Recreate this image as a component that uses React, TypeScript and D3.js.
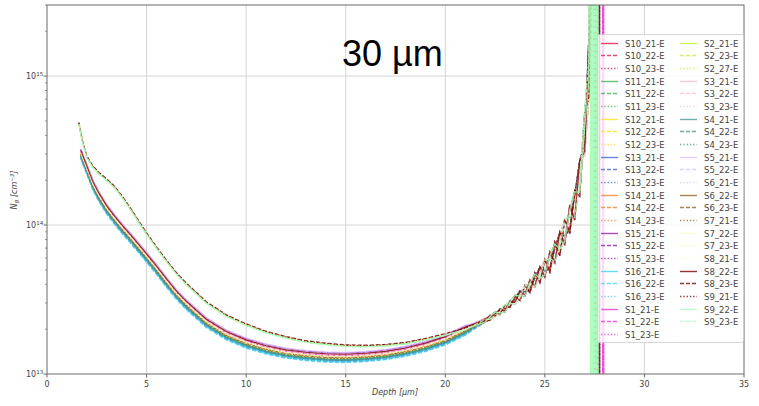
import React from "react";
import * as d3 from "d3";

const SERIES = [
  "S10_21-E","S10_22-E","S10_23-E","S11_21-E","S11_22-E","S11_23-E",
  "S12_21-E","S12_22-E","S12_23-E","S13_21-E","S13_22-E","S13_23-E",
  "S14_21-E","S14_22-E","S14_23-E","S15_21-E","S15_22-E","S15_23-E",
  "S16_21-E","S16_22-E","S16_23-E","S1_21-E","S1_22-E","S1_23-E",
  "S2_21-E","S2_23-E","S2_27-E","S3_21-E","S3_22-E","S3_23-E",
  "S4_21-E","S4_22-E","S4_23-E","S5_21-E","S5_22-E","S6_21-E",
  "S6_22-E","S6_23-E","S7_21-E","S7_22-E","S7_23-E","S8_21-E",
  "S8_22-E","S8_23-E","S9_21-E","S9_22-E","S9_23-E",
];

const COLORS = [
  "#e6194b","#3cb44b","#ffe119","#4363d8","#f58231","#911eb4","#42d4f4","#f032e6",
  "#bfef45","#fabed4","#469990","#dcbeff","#9a6324","#fffac8","#800000","#aaffc3",
];

// series belonging to the upper (shouldered) family
const UPPER = ["S2_21-E","S2_23-E","S2_27-E","S8_23-E","S9_21-E","S9_22-E","S9_23-E"];

// shared front-region depths (µm) and the two family profiles (cm^-3)
const FRONT_DEPTH = [1.6,1.8,2.0,2.3,2.6,3.0,3.4,3.8,4.2,4.6,5.0,5.5,6.0,6.5,7.0,8.0,9.0,10,11,12,13,14,15,16,17,18,19,20,21];
const UPPER_FRONT = [4.8e14,3.5e14,2.85e14,2.45e14,2.22e14,2.0e14,1.78e14,1.52e14,1.27e14,1.05e14,8.7e13,7.0e13,5.7e13,4.7e13,4.0e13,3.0e13,2.45e13,2.13e13,1.9e13,1.75e13,1.64e13,1.58e13,1.54e13,1.53e13,1.55e13,1.6e13,1.7e13,1.83e13,2.0e13];
const LOWER_FRONT = [3.15e14,2.75e14,2.35e14,1.85e14,1.55e14,1.27e14,1.08e14,9.3e13,8.1e13,7.0e13,6.05e13,5.0e13,4.1e13,3.4e13,2.9e13,2.2e13,1.82e13,1.6e13,1.46e13,1.37e13,1.32e13,1.29e13,1.28e13,1.3e13,1.34e13,1.41e13,1.52e13,1.68e13,1.95e13];

// per-series level offset in the front region
const LEVEL = [
  1.05,1.04,1.06, 0.98,0.97,0.99, 1.02,1.00,1.01, 0.96,0.94,0.95,
  1.03,1.02,1.01, 1.08,1.06,1.07, 0.95,0.93,0.94, 1.04,1.03,1.05,
  1.00,0.99,1.02, 1.06,1.05,1.04, 0.97,0.96,0.98, 1.09,1.07,1.06,
  1.01,1.00,0.99, 1.02,1.03,1.01, 1.06,1.05,1.03, 0.99,0.98,
];

// rising tail: depths and shared base
const TAIL_DEPTH = [22.0,22.25,22.5,22.75,23.0,23.25,23.5,23.75,24.0,24.25,24.5,24.75,25.0,25.25,25.5,25.75,26.0,26.25,26.5,26.75,27.0,27.2];
const TAIL_BASE = [2.3e13,2.4e13,2.5e13,2.6e13,2.75e13,2.95e13,3.15e13,3.35e13,3.6e13,3.9e13,4.25e13,4.65e13,5.1e13,5.7e13,6.5e13,7.5e13,9.0e13,1.1e14,1.35e14,2.0e14,4.0e14,1.0e15];

// hand-written roughness patterns for the noisy tail
const JITTER = [
  [1.00,1.03,0.98,1.04,0.97,1.05,0.96,1.07,0.94,1.10,0.91,1.13,0.88,1.16,0.86,1.20,0.83,1.24,0.80,1.35,0.78,1.45],
  [0.98,0.96,1.03,0.97,1.05,0.95,1.06,0.93,1.09,0.90,1.12,0.88,1.15,0.85,1.18,0.83,1.22,0.80,1.26,0.78,1.40,0.72],
  [1.02,1.00,1.01,1.05,1.00,0.97,1.02,1.08,0.99,0.95,1.04,1.12,0.96,0.90,1.07,1.18,0.93,0.86,1.18,1.35,0.88,1.70],
  [0.97,1.01,1.04,0.99,0.95,1.03,1.07,1.00,0.93,1.05,1.10,0.95,0.90,1.09,1.15,0.92,0.86,1.14,1.24,0.83,1.12,0.90],
  [1.01,0.97,0.99,1.02,1.06,1.01,0.94,0.98,1.08,1.04,0.91,0.97,1.13,1.05,0.87,0.96,1.19,1.06,0.83,0.98,1.45,1.20],
  [0.99,1.02,0.97,0.96,1.02,1.06,1.03,0.95,0.97,1.09,1.06,0.92,0.94,1.14,1.09,0.88,0.91,1.20,1.12,0.80,1.18,1.30],
  [1.03,0.99,0.96,1.01,1.04,0.98,0.95,1.03,1.09,0.96,0.92,1.07,1.14,0.93,0.88,1.12,1.22,0.90,0.86,1.28,0.74,0.68],
];

// depths where each series shoots off the scale (vertical excursions)
const SPIKES = [
  [27.55],[27.6],[27.5],
  [27.35,27.45],[27.4],[27.5],
  [27.3],[27.35],[27.4],
  [27.5],[27.55],[27.6],
  [27.45],[27.5],[27.55],
  [27.6],[27.65],[27.7],
  [27.4],[27.45],[27.5],
  [27.9,27.95],[27.9],[27.95],
  [27.3],[27.35],[27.4],
  [27.5],[27.55],[27.6],
  [27.45],[27.5],[27.55],
  [27.6],[27.65],[27.7],
  [27.5],[27.55],[27.6],
  [27.4],[27.45],[27.5],
  [27.65,27.75],[27.7],[27.75],
  [27.28,27.36,27.44,27.52,27.6,27.68],[27.32,27.4,27.48,27.56,27.64],
];
const SPIKE_HIGH = 1e17;
const SPIKE_LOW = 1e11;

const X_TICKS = [0,5,10,15,20,25,30,35];
const Y_TICKS = [13,14,15];

const W = 759, H = 406;
const L = 47, R = 744, T = 5, B = 374;

export default function App() {
  const x = d3.scaleLinear().domain([0, 35]).range([L, R]);
  const y = d3.scaleLog().domain([1e13, 3.0e15]).range([B, T]);

  const data = SERIES.map((name, i) => {
    const up = UPPER.includes(name);
    const front = up ? UPPER_FRONT : LOWER_FRONT;
    const lv = up ? 1 + (LEVEL[i] - 1) * 0.4 : LEVEL[i];
    const start = up ? 0 : 1;
    const pts: [number, number][] = [];
    FRONT_DEPTH.forEach((d, k) => { if (k >= start) pts.push([d, front[k] * lv]); });
    if (!up) pts.unshift([1.7, 3.0e14 * lv]);
    const jit = JITTER[i % JITTER.length];
    TAIL_DEPTH.forEach((d, k) => pts.push([d, TAIL_BASE[k] * jit[k]]));
    SPIKES[i].forEach((e) => {
      pts.push([e, SPIKE_HIGH]);
      pts.push([e + 0.01, SPIKE_LOW]);
    });
    return { name, pts, color: COLORS[Math.floor(i / 3)], style: i % 3 };
  });

  const line = d3.line<[number, number]>().x((p) => x(p[0])).y((p) => y(p[1]));
  const dash = (s: number) => (s === 0 ? "none" : s === 1 ? "4,2" : "1.3,2");

  const minor: number[] = [];
  for (let e = 13; e < 16; e++) for (let m = 2; m <= 9; m++) { const v = m * Math.pow(10, e); if (v <= 3.0e15) minor.push(v); }

  const font = "DejaVu Sans, sans-serif";
  const rowH = 12.67;

  return (
    <svg width={W} height={H} style={{ position: "absolute", left: 0, top: 0, background: "#fff" }} fontFamily={font}>
      <defs>
        <clipPath id="plot"><rect x={L} y={T} width={R - L} height={B - T} /></clipPath>
      </defs>
      {X_TICKS.slice(1, -1).map((t) => (
        <line key={"gx" + t} x1={x(t)} x2={x(t)} y1={T} y2={B} stroke="#d4d4d4" strokeWidth={1} />
      ))}
      {Y_TICKS.slice(1).map((e) => (
        <line key={"gy" + e} x1={L} x2={R} y1={y(Math.pow(10, e))} y2={y(Math.pow(10, e))} stroke="#d4d4d4" strokeWidth={1} />
      ))}
      <g clipPath="url(#plot)">
        {data.map((s) => (
          <path key={s.name} d={line(s.pts) || ""} fill="none" stroke={s.color} strokeWidth={1.2}
            strokeOpacity={0.8} strokeDasharray={dash(s.style)} />
        ))}
      </g>
      <text x={342} y={66} fontSize={36} fontFamily="Liberation Sans, Arial, sans-serif" fill="#000">30 µm</text>
      <rect x={L} y={T} width={R - L} height={B - T} fill="none" stroke="#6a6a6a" strokeWidth={1} />
      {X_TICKS.map((t) => (
        <g key={"xt" + t}>
          <line x1={x(t)} x2={x(t)} y1={B} y2={B + 3.5} stroke="#6a6a6a" />
          <text x={x(t)} y={387} fontSize={8} textAnchor="middle" fill="#444">{t}</text>
        </g>
      ))}
      {Y_TICKS.map((e) => (
        <g key={"yt" + e}>
          <line x1={L - 3.5} x2={L} y1={y(Math.pow(10, e))} y2={y(Math.pow(10, e))} stroke="#6a6a6a" />
          <text x={26} y={y(Math.pow(10, e)) + 3} fontSize={8} fill="#444">
            10<tspan fontSize={5.5} dy={-3.5}>{e}</tspan>
          </text>
        </g>
      ))}
      {minor.map((v) => (
        <line key={"mn" + v} x1={L - 2} x2={L} y1={y(v)} y2={y(v)} stroke="#6a6a6a" strokeWidth={0.7} />
      ))}
      <text x={395} y={395} fontSize={8} textAnchor="middle" fill="#444" fontStyle="italic">Depth  [µm]</text>
      <text transform="translate(17,190) rotate(-90)" fontSize={8} textAnchor="middle" fill="#444" fontStyle="italic">
        N<tspan fontSize={5.5} dy={2}>B</tspan><tspan dy={-2}>  [cm</tspan><tspan fontSize={5.5} dy={-3.5}>−3</tspan><tspan dy={3.5}>]</tspan>
      </text>
      <rect x={597.5} y={34.5} width={146} height={308} rx={2} fill="#fff" fillOpacity={0.8} stroke="#cccccc" strokeWidth={0.8} />
      {data.map((s, i) => {
        const col = i < 24 ? 0 : 1;
        const row = col === 0 ? i : i - 24;
        const yy = Math.round(42.7 + row * rowH) + 0.5;
        const lx = col === 0 ? 601 : 680;
        return (
          <g key={"lg" + s.name}>
            <path d={`M${lx},${yy}H${lx + 17}`} fill="none" stroke={s.color} strokeWidth={1.4}
              strokeOpacity={0.8} strokeDasharray={dash(s.style)} />
            <text x={lx + 24} y={yy + 3} fontSize={8.5} fill="#444">{s.name}</text>
          </g>
        );
      })}
    </svg>
  );
}
